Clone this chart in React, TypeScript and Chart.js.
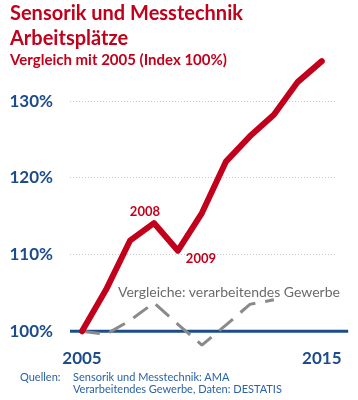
import React, { useEffect, useRef } from "react";
import { Chart, registerables } from "chart.js";

Chart.register(...registerables);

const years = [2005, 2006, 2007, 2008, 2009, 2010, 2011, 2012, 2013, 2014, 2015];
const sensorValues = [100, 105.4, 111.8, 114.1, 110.5, 115.4, 122.1, 125.4, 128.2, 132.5, 135.2];
const industryYears = [2005, 2006, 2007, 2008, 2009, 2010, 2011, 2012, 2013];
const industryValues = [100, 99.6, 101.4, 103.7, 100.9, 98.2, 100.8, 103.5, 104.1];
const yTicks = [100, 110, 120, 130];
const xTicks = [2005, 2015];
const annotatedYears = ["2008", "2009"];

const RED = "#c3001b";
const BLUE = "#1c4c8c";
const FONT = "Lato, 'Open Sans', sans-serif";

const labelPlugin = {
  id: "yearLabels",
  afterDatasetsDraw(chart: any) {
    const meta = chart.getDatasetMeta(2);
    const ctx = chart.ctx;
    ctx.save();
    ctx.fillStyle = RED;
    ctx.font = `bold 13px ${FONT}`;
    ctx.textAlign = "center";
    ctx.textBaseline = "middle";
    const p8 = meta.data[3];
    const p9 = meta.data[4];
    ctx.fillText(annotatedYears[0], p8.x - 9, p8.y - 11);
    ctx.fillText(annotatedYears[1], p9.x + 23, p9.y + 8);
    ctx.restore();
  },
};

export default function App() {
  const ref = useRef<HTMLCanvasElement>(null);
  useEffect(() => {
    const chart = new Chart(ref.current!, {
      type: "line",
      data: {
        datasets: [
          {
            data: [{ x: 2004.5, y: 100 }, { x: 2016.1, y: 100 }],
            borderColor: BLUE,
            borderWidth: 3,
            pointRadius: 0,
            clip: false as any,
            order: 2,
          },
          {
            data: industryYears.map((x, i) => ({ x, y: industryValues[i] })),
            borderColor: "#8a8a8a",
            borderWidth: 3,
            borderDash: [18, 10],
            pointRadius: 0,
            tension: 0,
            order: 1,
          },
          {
            data: years.map((x, i) => ({ x, y: sensorValues[i] })),
            borderColor: RED,
            borderWidth: 6,
            borderCapStyle: "round",
            borderJoinStyle: "round",
            pointRadius: 0,
            tension: 0,
            order: 0,
          },
        ],
      },
      options: {
        animation: false,
        responsive: false,
        maintainAspectRatio: false,
        layout: { padding: { left: 8, right: 23, top: 55, bottom: 29 } },
        plugins: { legend: { display: false }, tooltip: { enabled: false } },
        scales: {
          x: {
            type: "linear",
            min: 2004.5,
            max: 2015.55,
            afterBuildTicks: (s: any) => {
              s.ticks = xTicks.map((v) => ({ value: v }));
            },
            grid: { display: false, drawTicks: false, tickLength: 0 },
            border: { display: false },
            ticks: {
              color: BLUE,
              font: { family: FONT, size: 17, weight: "bold" },
              padding: 2,
              maxRotation: 0,
              autoSkip: false,
              callback: (v: any) => String(v),
            },
          },
          y: {
            min: 98,
            max: 136,
            afterBuildTicks: (s: any) => {
              s.ticks = yTicks.map((v) => ({ value: v }));
            },
            afterFit: (s: any) => {
              s.width = 62;
            },
            grid: { color: "#c8c8c8", lineWidth: 1, drawTicks: false },
            border: { display: false, dash: [1, 2] },
            ticks: {
              color: BLUE,
              font: { family: FONT, size: 17, weight: "bold" },
              padding: 17,
              callback: (v: any) => v + "%",
            },
          },
        },
      },
      plugins: [labelPlugin],
    });
    return () => chart.destroy();
  }, []);

  const abs = (top: number, left: number): React.CSSProperties => ({
    position: "absolute",
    top,
    left,
    whiteSpace: "nowrap",
    fontFamily: FONT,
  });

  return (
    <div style={{ position: "fixed", left: 0, top: 0, width: 358, height: 400, background: "#fff" }}>
      <canvas ref={ref} width={358} height={400} style={{ position: "absolute", left: 0, top: 0 }} />
      <div style={{ ...abs(0, 10), color: RED, fontWeight: "bold", fontSize: 20, lineHeight: "25px" }}>
        Sensorik und Messtechnik
      </div>
      <div style={{ ...abs(25, 10), color: RED, fontWeight: "bold", fontSize: 20, lineHeight: "25px" }}>
        Arbeitsplätze
      </div>
      <div style={{ ...abs(49, 10), color: RED, fontWeight: "bold", fontSize: 15, lineHeight: "20px" }}>
        Vergleich mit 2005 (Index 100%)
      </div>
      <div style={{ ...abs(282, 118), color: "#6a6a6a", fontSize: 14, lineHeight: "20px" }}>
        Vergleiche: verarbeitendes Gewerbe
      </div>
      <div style={{ ...abs(370, 20), color: "#2a62a6", fontSize: 11, lineHeight: "13px" }}>Quellen:</div>
      <div style={{ ...abs(370, 73), color: "#2a62a6", fontSize: 11 }}>
        <div style={{ lineHeight: "13px" }}>Sensorik und Messtechnik: AMA</div>
        <div style={{ lineHeight: "12px" }}>Verarbeitendes Gewerbe, Daten: DESTATIS</div>
      </div>
    </div>
  );
}
